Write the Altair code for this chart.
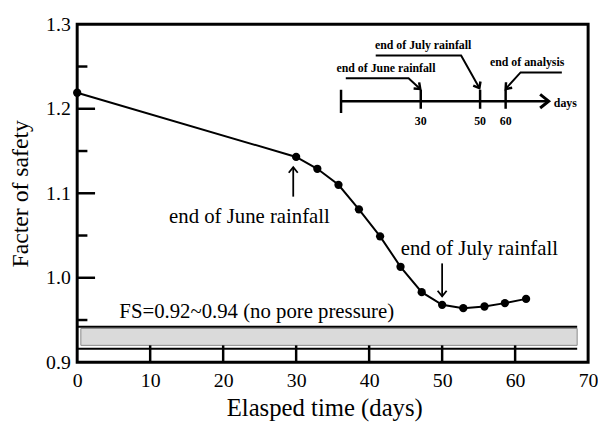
import altair as alt
import pandas as pd

FONT = "Liberation Serif"

# ---- main series ----
days = [0, 30, 32.9, 35.8, 38.6, 41.5, 44.3, 47.2, 50.0, 52.9, 55.8, 58.6, 61.5]
fs = [1.219, 1.143, 1.129, 1.110, 1.081, 1.049, 1.013, 0.983, 0.968, 0.964, 0.966, 0.970, 0.975]

# ---- axes ----
x_tick_labels = [0, 10, 20, 30, 40, 50, 60, 70]
y_tick_labels = [0.9, 1.0, 1.1, 1.2, 1.3]
x_inner_ticks = [10, 20, 30, 40, 50, 60]
y_major_ticks = [1.0, 1.1, 1.2]
y_minor_ticks = [0.95, 1.05, 1.15, 1.25]

# ---- FS band (no pore pressure) ----
band_low, band_high = 0.92, 0.94
band_start, band_end = 0.5, 68.5
band_line_top, band_line_bottom = 0.942, 0.916

# ---- main annotations ----
note_text = ["end of June rainfall", "end of July rainfall", "FS=0.92~0.94 (no pore pressure)"]
note_x = [23.6, 55.1, 24.6]
note_y = [1.072, 1.034, 0.9595]
arrow_x = [29.6, 50.0]
arrow_tail = [1.096, 1.017]
arrow_tip = [1.131, 0.978]
arrow_angle = [0, 180]

# ---- inset timeline ----
inset_text = ["end of June rainfall", "end of July rainfall", "end of analysis"]
inset_text_x = [42.3, 47.4, 61.65]
inset_text_y = [1.248, 1.276, 1.2556]
timeline_start, timeline_end, timeline_y = 36.15, 64.6, 1.209
inset_ticks_x = [36.15, 47.07, 55.2, 58.7]
inset_tick_top = [1.2225, 1.2225, 1.2225, 1.2225]
inset_tick_bottom = [1.195, 1.200, 1.200, 1.200]
inset_labels = ["30", "50", "60"]
inset_label_x = [47.07, 55.2, 58.7]
inset_label_y = 1.186
days_label, days_label_x, days_label_y = "days", 65.3, 1.2068

leader_id = ["june"] * 3 + ["july"] * 3 + ["analysis"] * 3
leader_ord = [0, 1, 2] * 3
leader_x = [36.8, 45.4, 47.0, 40.9, 52.6, 55.1, 66.4, 60.75, 58.7]
leader_y = [1.236, 1.236, 1.2235, 1.263, 1.263, 1.2245, 1.243, 1.243, 1.2235]
leader_head_x = [47.0, 55.1, 58.7]
leader_head_y = [1.2235, 1.2245, 1.2235]
leader_head_angle = [132, 151, 222]

xs = alt.Scale(domain=[0, 70], nice=False, zero=False)
ys = alt.Scale(domain=[0.9, 1.3], nice=False, zero=False)

x_axis = alt.Axis(
    values=x_tick_labels, format="d", title="Elasped time (days)",
    domain=False, ticks=False, grid=False, tickSize=0,
    labelFont=FONT, titleFont=FONT, labelColor="black", titleColor="black",
    labelFlush=False, labelOverlap=False, labelPadding=9, labelBaseline="top",
    labelFontSize=20, titleFontSize=25, titleX=250, titleY=54,
    titleBaseline="alphabetic", titleFontWeight="normal")
y_axis = alt.Axis(
    values=y_tick_labels, format=".1f", title="Facter of safety",
    domain=False, ticks=False, grid=False, tickSize=0,
    labelFont=FONT, titleFont=FONT, labelColor="black", titleColor="black",
    labelFlush=False, labelOverlap=False, labelPadding=7,
    labelFontSize=20, titleFontSize=24, titleX=-45, titleY=171,
    titleFontWeight="normal")


def X(f):
    return alt.X(f, type="quantitative", scale=xs, axis=x_axis, title="Elasped time (days)")


def Y(f):
    return alt.Y(f, type="quantitative", scale=ys, axis=y_axis, title="Facter of safety")


chevron = "M-0.8,1L0,0L0.8,1"

main = pd.DataFrame({"day": days, "fs": fs})

line = alt.Chart(main).mark_line(color="black", strokeWidth=2).encode(x=X("day"), y=Y("fs"))
points = alt.Chart(main).mark_circle(size=70, color="black", opacity=1).encode(x=X("day"), y=Y("fs"))

# band
band_df = pd.DataFrame({"x": [band_start], "x2": [band_end], "y": [band_low], "y2": [band_high]})
band = alt.Chart(band_df).mark_rect(fill="#dadada", stroke="#888888", strokeWidth=1).encode(
    x=X("x"), x2="x2", y=Y("y"), y2="y2")
band_lines_df = pd.DataFrame({"x": [0, 0], "x2": [band_end, band_end],
                              "y": [band_line_top, band_line_bottom]})
band_lines = alt.Chart(band_lines_df).mark_rule(color="black", strokeWidth=2).encode(
    x=X("x"), x2="x2", y=Y("y"))

# inner axis ticks
xt_df = pd.DataFrame({"x": x_inner_ticks, "y": [0.9] * 6, "y2": [0.92] * 6})
xticks = alt.Chart(xt_df).mark_rule(color="black", strokeWidth=2.5).encode(x=X("x"), y=Y("y"), y2="y2")
ytm_df = pd.DataFrame({"y": y_major_ticks, "x": [0] * 3, "x2": [2.45] * 3})
ytmaj = alt.Chart(ytm_df).mark_rule(color="black", strokeWidth=2.5).encode(y=Y("y"), x=X("x"), x2="x2")
ytn_df = pd.DataFrame({"y": y_minor_ticks, "x": [0] * 4, "x2": [1.4] * 4})
ytmin = alt.Chart(ytn_df).mark_rule(color="black", strokeWidth=2.5).encode(y=Y("y"), x=X("x"), x2="x2")

# main annotations
notes_df = pd.DataFrame({"t": note_text, "x": note_x, "y": note_y})
notes = alt.Chart(notes_df).mark_text(font=FONT, fontSize=21, color="black", baseline="middle",
                                       align="center").encode(x=X("x"), y=Y("y"), text="t:N")
arr_df = pd.DataFrame({"x": arrow_x, "y": arrow_tail, "y2": arrow_tip, "a": arrow_angle})
arr_shaft = alt.Chart(arr_df).mark_rule(color="black", strokeWidth=1.8).encode(x=X("x"), y=Y("y"), y2="y2")
arr_head = alt.Chart(arr_df).mark_point(shape=chevron, filled=False, color="black", strokeWidth=1.8,
                                        size=130, opacity=1).encode(
    x=X("x"), y=Y("y2"), angle=alt.Angle("a:Q", scale=None))

# inset
it_df = pd.DataFrame({"t": inset_text, "x": inset_text_x, "y": inset_text_y})
inset_txt = alt.Chart(it_df).mark_text(font=FONT, fontSize=12, fontWeight="bold", color="black",
                                       baseline="middle", align="center").encode(
    x=X("x"), y=Y("y"), text="t:N")
tl_df = pd.DataFrame({"x": [timeline_start], "x2": [timeline_end], "y": [timeline_y]})
timeline = alt.Chart(tl_df).mark_rule(color="black", strokeWidth=2.5).encode(x=X("x"), x2="x2", y=Y("y"))
tl_head_df = pd.DataFrame({"x": [timeline_end], "y": [timeline_y], "a": [90]})
tl_head = alt.Chart(tl_head_df).mark_point(shape=chevron, filled=False, color="black", strokeWidth=3,
                                           size=300, opacity=1).encode(
    x=X("x"), y=Y("y"), angle=alt.Angle("a:Q", scale=None))
itk_df = pd.DataFrame({"x": inset_ticks_x, "y": inset_tick_top, "y2": inset_tick_bottom})
itk = alt.Chart(itk_df).mark_rule(color="black", strokeWidth=2.5).encode(x=X("x"), y=Y("y"), y2="y2")
il_df = pd.DataFrame({"t": inset_labels + [days_label],
                      "x": inset_label_x + [days_label_x],
                      "y": [inset_label_y] * 3 + [days_label_y]})
il_num = alt.Chart(il_df.iloc[:3]).mark_text(font=FONT, fontSize=12, fontWeight="bold", color="black",
                                             baseline="middle", align="center").encode(
    x=X("x"), y=Y("y"), text="t:N")
il_days = alt.Chart(il_df.iloc[3:]).mark_text(font=FONT, fontSize=12, fontWeight="bold", color="black",
                                              baseline="middle", align="left").encode(
    x=X("x"), y=Y("y"), text="t:N")
ld_df = pd.DataFrame({"id": leader_id, "o": leader_ord, "x": leader_x, "y": leader_y})
leaders = alt.Chart(ld_df).mark_line(color="black", strokeWidth=2).encode(
    x=X("x"), y=Y("y"), detail="id:N", order="o:Q")
lh_df = pd.DataFrame({"x": leader_head_x, "y": leader_head_y, "a": leader_head_angle})
lheads = alt.Chart(lh_df).mark_point(shape=chevron, filled=False, color="black", strokeWidth=2.5,
                                     size=110, opacity=1).encode(
    x=X("x"), y=Y("y"), angle=alt.Angle("a:Q", scale=None))

chart = alt.layer(
    band, band_lines, xticks, ytmaj, ytmin, line, points, notes, arr_shaft, arr_head,
    inset_txt, timeline, tl_head, itk, il_num, il_days, leaders, lheads
).properties(
    width=517, height=342, autosize="none",
    padding={"left": 70, "top": 14, "right": 10, "bottom": 60},
    background="white",
).configure_view(stroke="black", strokeWidth=3).configure_axis(
    labelFont=FONT, titleFont=FONT, labelColor="black", titleColor="black"
)

chart.save("out.html", embed_options={"renderer": "svg", "actions": False})
